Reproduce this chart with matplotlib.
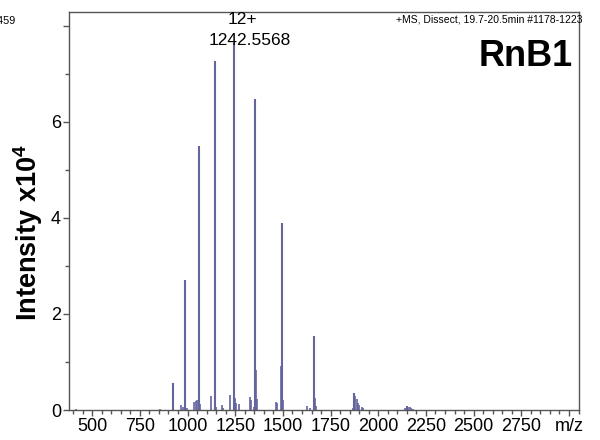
import matplotlib
matplotlib.use('Agg')
import matplotlib.pyplot as plt
from matplotlib.ticker import MultipleLocator, FixedLocator, FuncFormatter

plt.rcParams['font.family'] = 'Liberation Sans'
plt.rcParams['mathtext.fontset'] = 'custom'
plt.rcParams['mathtext.rm'] = 'Liberation Sans'
plt.rcParams['mathtext.bf'] = 'Liberation Sans:bold'

# charge-state series (m/z, intensity x10^4)
main_mz = [922, 987, 1060, 1142, 1242.5568, 1354, 1494, 1661, 1874, 2150]
main_int = [0.56, 2.71, 5.49, 7.26, 7.64, 6.48, 3.89, 1.54, 0.35, 0.08]

# minor peaks, shoulders and adducts
minor_mz = [415, 858, 968, 975, 998, 1035, 1042, 1048, 1066, 1122, 1148,
            1179, 1186, 1222, 1250, 1256, 1271, 1327, 1335, 1346, 1359, 1364,
            1464, 1470, 1488, 1499, 1628, 1640, 1670, 1676, 1868, 1880, 1887,
            1892, 1900, 1913, 1921, 2142, 2158, 2165, 2172, 2180]
minor_int = [0.02, 0.03, 0.10, 0.06, 0.05, 0.17, 0.19, 0.20, 0.12, 0.29, 0.06,
             0.10, 0.05, 0.31, 0.25, 0.15, 0.12, 0.27, 0.20, 0.06, 0.83, 0.22,
             0.17, 0.15, 0.92, 0.21, 0.08, 0.05, 0.25, 0.08, 0.05, 0.30, 0.22,
             0.15, 0.10, 0.06, 0.05, 0.05, 0.07, 0.06, 0.04, 0.03]

c = '#64649e'
frame = '#555555'

fig = plt.figure(figsize=(6, 4.4), dpi=100)
ax = fig.add_axes([69.3/600, 1-410/440, 510/600, 398/440])

ax.vlines(minor_mz, 0, minor_int, color=c, lw=1.2)
ax.vlines(main_mz, 0, main_int, color=c, lw=1.5)

ax.set_xlim(380, 3054)
ax.set_ylim(0, 8.29)

ax.xaxis.set_major_locator(MultipleLocator(250))
ax.xaxis.set_minor_locator(MultipleLocator(50))
ax.xaxis.set_major_formatter(FuncFormatter(
    lambda v, pos: 'm/z' if v >= 3000 else f'{v:.0f}'))
ax.yaxis.set_major_locator(FixedLocator([0, 2, 4, 6, 8]))
ax.yaxis.set_minor_locator(FixedLocator([1, 3, 5, 7]))
ax.set_yticklabels(['0', '2', '4', '6', ''])

ax.tick_params(axis='both', which='major', direction='out', length=4,
               width=1, color=frame, labelsize=13, pad=2)
ax.tick_params(axis='both', which='minor', direction='out', length=3,
               width=1, color=frame)
for s in ax.spines.values():
    s.set_color(frame)
    s.set_linewidth(1)

ax.set_ylabel(r'Intensity x10$^\mathbf{4}$', fontsize=19.5, fontweight='bold',
              va='center')
ax.yaxis.set_label_coords(-0.081, 0.445)

# labels on the base peak
ax.annotate('12+', xy=(main_mz[4], main_int[4]), xytext=(6, 16.8),
            textcoords='offset points', ha='center', va='center', fontsize=12.5)
ax.annotate('1242.5568', xy=(main_mz[4], main_int[4]), xytext=(11.7, 1.7),
            textcoords='offset points', ha='center', va='center', fontsize=12.5)

fig.text(582/600, 1-20/440, '+MS, Dissect, 19.7-20.5min #1178-1223',
         ha='right', va='center', fontsize=7.5)
fig.text(573/600, 1-57/440, 'RnB1', ha='right', va='center', fontsize=26,
         fontweight='bold')
fig.text(15.5/600, 1-21.5/440, '1459', ha='right', va='center', fontsize=7.8)

fig.savefig('out.png', dpi=100)
